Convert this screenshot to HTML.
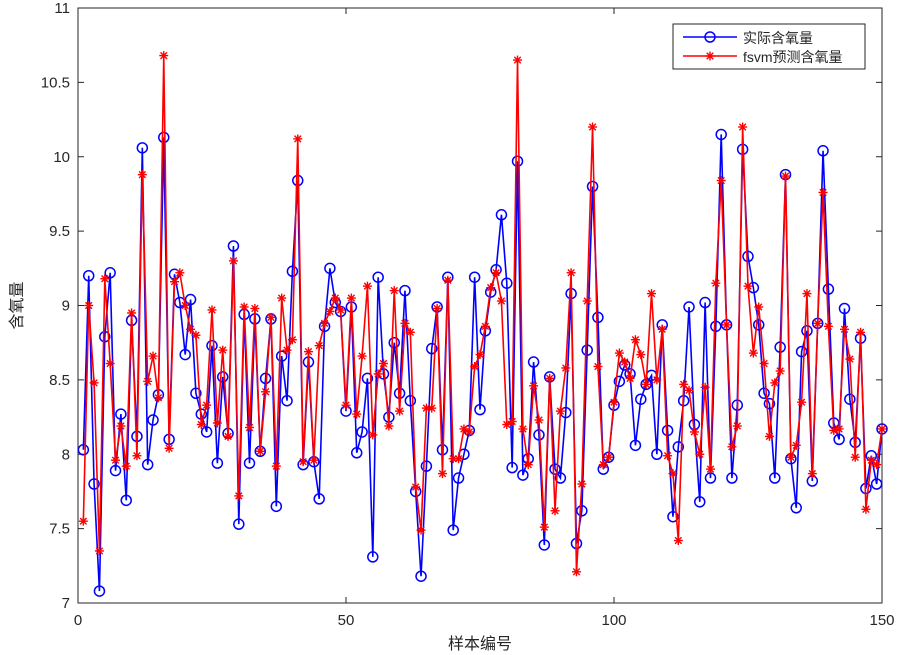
<!DOCTYPE html>
<html><head><meta charset="utf-8"><style>
body{margin:0;background:#fff;}
svg{display:block;font-family:"Liberation Sans","Noto Sans CJK SC",sans-serif;}
</style></head><body>
<svg id="chart" width="903" height="655"></svg>
<script>
const actual=[8.03,9.2,7.8,7.08,8.79,9.22,7.89,8.27,7.69,8.9,8.12,10.06,7.93,8.23,8.4,10.13,8.1,9.21,9.02,8.67,9.04,8.41,8.27,8.15,8.73,7.94,8.52,8.14,9.4,7.53,8.94,7.94,8.91,8.02,8.51,8.91,7.65,8.66,8.36,9.23,9.84,7.93,8.62,7.95,7.7,8.86,9.25,9.02,8.96,8.29,8.99,8.01,8.15,8.51,7.31,9.19,8.54,8.25,8.75,8.41,9.1,8.36,7.75,7.18,7.92,8.71,8.99,8.03,9.19,7.49,7.84,8.0,8.16,9.19,8.3,8.83,9.09,9.24,9.61,9.15,7.91,9.97,7.86,7.97,8.62,8.13,7.39,8.52,7.9,7.84,8.28,9.08,7.4,7.62,8.7,9.8,8.92,7.9,7.98,8.33,8.49,8.6,8.54,8.06,8.37,8.47,8.53,8.0,8.87,8.16,7.58,8.05,8.36,8.99,8.2,7.68,9.02,7.84,8.86,10.15,8.87,7.84,8.33,10.05,9.33,9.12,8.87,8.41,8.34,7.84,8.72,9.88,7.97,7.64,8.69,8.83,7.82,8.88,10.04,9.11,8.21,8.1,8.98,8.37,8.08,8.78,7.77,7.99,7.8,8.17];
const predicted=[7.55,9.0,8.48,7.35,9.18,8.61,7.96,8.19,7.92,8.95,7.99,9.88,8.49,8.66,8.38,10.68,8.04,9.16,9.22,9.0,8.84,8.8,8.2,8.33,8.97,8.21,8.7,8.12,9.3,7.72,8.99,8.18,8.98,8.02,8.42,8.92,7.92,9.05,8.7,8.77,10.12,7.95,8.69,7.96,8.73,8.88,8.96,9.05,8.97,8.33,9.05,8.27,8.66,9.13,8.13,8.54,8.61,8.19,9.1,8.29,8.88,8.82,7.78,7.49,8.31,8.31,8.98,7.87,9.17,7.97,7.97,8.17,8.15,8.59,8.67,8.86,9.12,9.22,9.03,8.2,8.22,10.65,8.17,7.93,8.46,8.23,7.51,8.51,7.62,8.29,8.58,9.22,7.21,7.8,9.03,10.2,8.59,7.93,7.98,8.35,8.68,8.62,8.51,8.77,8.67,8.47,9.08,8.5,8.84,7.99,7.87,7.42,8.47,8.43,8.15,8.0,8.45,7.9,9.15,9.84,8.87,8.05,8.19,10.2,9.13,8.68,8.99,8.61,8.12,8.48,8.56,9.87,7.98,8.06,8.35,9.08,7.87,8.88,9.76,8.86,8.16,8.17,8.84,8.64,7.98,8.82,7.63,7.96,7.93,8.17];
const xTicks=[0,50,100,150];
const yTicks=[7,7.5,8,8.5,9,9.5,10,10.5,11];
const yTickLabels=["7","7.5","8","8.5","9","9.5","10","10.5","11"];
const L=78,R=882,T=8,B=603;
const xs=v=>L+(v-0)/150*(R-L);
const ys=v=>B-(v-7)/4*(B-T);
const NS="http://www.w3.org/2000/svg";
const svg=document.getElementById('chart');
function mk(tag,attrs,parent){const e=document.createElementNS(NS,tag);for(const k in attrs)e.setAttribute(k,attrs[k]);(parent||svg).appendChild(e);return e;}
const frame=mk('rect',{x:L,y:T,width:R-L,height:B-T,fill:'#fff',stroke:'#262626','stroke-width':1});


xTicks.forEach(v=>{
  const x=xs(v);
  mk('line',{x1:x,y1:B,x2:x,y2:B-6,stroke:'#262626'});
  mk('line',{x1:x,y1:T,x2:x,y2:T+6,stroke:'#262626'});
  const t=mk('text',{x:x,y:B+22,'text-anchor':'middle','font-size':15,fill:'#262626'});
  t.textContent=v;
  
  
});
yTicks.forEach((v,i)=>{
  const y=ys(v);
  mk('line',{x1:L,y1:y,x2:L+6,y2:y,stroke:'#262626'});
  mk('line',{x1:R,y1:y,x2:R-6,y2:y,stroke:'#262626'});
  const t=mk('text',{x:L-8,y:y+5,'text-anchor':'end','font-size':15,fill:'#262626'});
  t.textContent=yTickLabels[i];
  
  
});
const xl=mk('text',{x:(L+R)/2,y:649,'text-anchor':'middle','font-size':16,fill:'#262626'});
xl.textContent='样本编号';


const yl=mk('text',{x:0,y:0,'text-anchor':'middle','font-size':16,fill:'#262626',transform:`translate(22,${(T+B)/2}) rotate(-90)`});
yl.textContent='含氧量';


function star(g,x,y,c){
  const s=4.5;
  mk('line',{x1:x-s,y1:y,x2:x+s,y2:y,stroke:c,'stroke-width':1.4},g);
  mk('line',{x1:x,y1:y-s,x2:x,y2:y+s,stroke:c,'stroke-width':1.4},g);
  mk('line',{x1:x-s*0.72,y1:y-s*0.72,x2:x+s*0.72,y2:y+s*0.72,stroke:c,'stroke-width':1.4},g);
  mk('line',{x1:x-s*0.72,y1:y+s*0.72,x2:x+s*0.72,y2:y-s*0.72,stroke:c,'stroke-width':1.4},g);
}
const gb=mk('g',{});


mk('polyline',{points:actual.map((v,i)=>xs(i+1)+','+ys(v)).join(' '),fill:'none',stroke:'#0000ff','stroke-width':1.6},gb);
actual.forEach((v,i)=>{
  const c=mk('circle',{cx:xs(i+1),cy:ys(v),r:5,fill:'none',stroke:'#0000ff','stroke-width':1.5},gb);
  
  
});
const gr=mk('g',{});


mk('polyline',{points:predicted.map((v,i)=>xs(i+1)+','+ys(v)).join(' '),fill:'none',stroke:'#ff0000','stroke-width':1.6},gr);
predicted.forEach((v,i)=>star(gr,xs(i+1),ys(v),'#ff0000'));
const lg=mk('g',{});


mk('rect',{x:673,y:24,width:192,height:45,fill:'#fff',stroke:'#262626'},lg);
mk('line',{x1:683,y1:37,x2:737,y2:37,stroke:'#0000ff','stroke-width':1.5},lg);
mk('circle',{cx:710,cy:37,r:5,fill:'none',stroke:'#0000ff','stroke-width':1.5},lg);
const t1=mk('text',{x:743,y:43,'font-size':14,fill:'#262626'},lg);t1.textContent='实际含氧量';


mk('line',{x1:683,y1:56,x2:737,y2:56,stroke:'#ff0000','stroke-width':1.5},lg);
star(lg,710,56,'#ff0000');
const t2=mk('text',{x:743,y:62,'font-size':14,fill:'#262626'},lg);t2.textContent='fsvm预测含氧量';


</script>
</body></html>
